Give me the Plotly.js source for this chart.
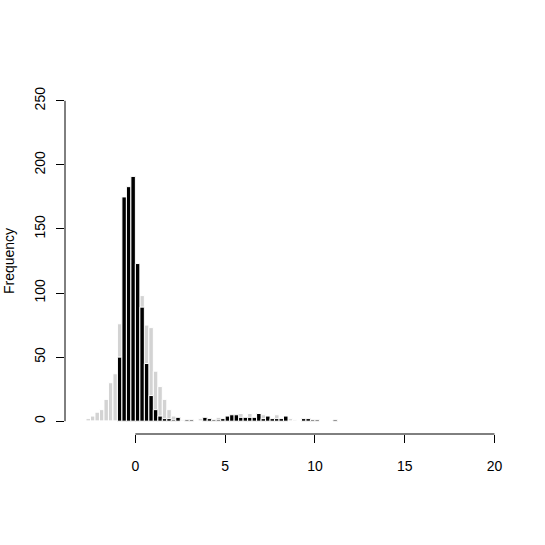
<!DOCTYPE html>
<html>
<head>
<meta charset="utf-8">
<script src="https://cdn.plot.ly/plotly-3.0.1.min.js"></script>
<style>html,body{margin:0;padding:0;background:#fff;}#chart{width:545px;height:545px;}</style>
</head>
<body>
<div id="chart"></div>
<script>
// Lower edges of the histogram bins (bin width 0.25)
var binLeft = [-2.75,-2.5,-2.25,-2.0,-1.75,-1.5,-1.25,-1.0,-0.75,-0.5,-0.25,0.0,0.25,0.5,0.75,1.0,1.25,1.5,1.75,2.0,
  2.25,2.5,2.75,3.0,3.25,3.5,3.75,4.0,4.25,4.5,4.75,5.0,5.25,5.5,5.75,6.0,6.25,6.5,6.75,7.0,
  7.25,7.5,7.75,8.0,8.25,8.5,8.75,9.0,9.25,9.5,9.75,10.0,10.25,10.5,10.75,11.0];
var binWidth = 0.25;
// Grey histogram counts
var greyCounts = [2,4,7,9,17,30,37,76,90,95,100,100,98,75,73,39,27,17,9,4,
  1,1,0,0,0,2,0,0,0,3,0,0,0,0,6,0,6,0,0,5,
  0,0,5,0,0,2,1,0,0,0,0,0,0,0,0,0];
// Black histogram counts
var blackCounts = [0,0,0,0,0,0,0,50,175,183,191,123,89,45,20,9,4,2,2,1,
  3,0,1,1,0,0,3,2,1,1,2,4,5,5,3,3,3,3,6,2,
  4,2,2,2,4,0,0,0,2,2,1,1,0,0,0,1];
var xTicks = [0,5,10,15,20];
var yTicks = [0,50,100,150,200,250];

var centers = binLeft.map(function(b){return b + binWidth/2;});

var traces = [
  {type:'bar', x:centers, y:greyCounts, width:binWidth,
   marker:{color:'#d3d3d3', line:{color:'#ffffff', width:1}}, hoverinfo:'none'},
  {type:'bar', x:centers, y:blackCounts, width:binWidth,
   marker:{color:'#000000', line:{color:'#ffffff', width:1}}, hoverinfo:'none'}
];

var font = {family:'"Liberation Sans", Arial, Helvetica, sans-serif', size:14, color:'#000'};

var layout = {
  width:545, height:545,
  margin:{l:65, r:34, t:88, b:111, pad:0},
  paper_bgcolor:'#fff', plot_bgcolor:'#fff',
  barmode:'overlay', bargap:0,
  showlegend:false,
  font:font,
  xaxis:{range:[-3.92,20.92], showgrid:false, zeroline:false, showline:false,
    tickmode:'array', tickvals:xTicks, ticktext:xTicks.map(String),
    ticks:'outside', ticklen:8, tickwidth:1, tickcolor:'#000',
    ticklabelstandoff:11, tickfont:font},
  yaxis:{range:[-10,260], showgrid:false, zeroline:false, showline:false,
    tickmode:'array', tickvals:yTicks, ticktext:yTicks.map(String),
    ticks:'outside', ticklen:8, tickwidth:1, tickcolor:'#000', tickangle:-90,
    ticklabelstandoff:5, tickfont:font,
    title:{text:'Frequency', font:font, standoff:14}},
  shapes:[
    {type:'line', xref:'x', yref:'paper', x0:xTicks[0], x1:xTicks[xTicks.length-1], y0:0, y1:0,
     line:{color:'#000', width:1}},
    {type:'line', xref:'paper', yref:'y', x0:0, x1:0, y0:yTicks[0], y1:yTicks[yTicks.length-1],
     line:{color:'#000', width:1}}
  ]
};

Plotly.newPlot('chart', traces, layout, {staticPlot:true, displayModeBar:false});
</script>
</body>
</html>
